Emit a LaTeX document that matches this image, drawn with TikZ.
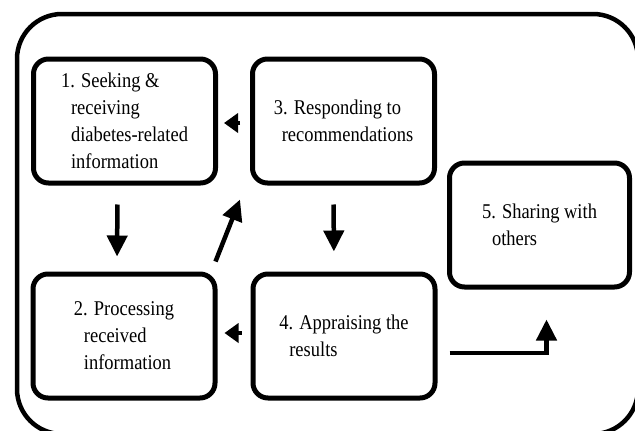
\documentclass[tikz,border=0pt]{standalone}
\usepackage{fontspec}
\setmainfont[FakeStretch=0.88]{Liberation Serif}
\usetikzlibrary{arrows.meta}

\tikzset{
  stage/.style={draw,line width=5pt,rounded corners=15pt,align=left,
    minimum width=182pt,minimum height=124pt,inner sep=0pt,
    font=\fontsize{21}{27}\selectfont},
  flow/.style={line width=4.5pt,-{Triangle[width=20pt,length=21pt]}},
  nudge/.style={line width=4.5pt,-{Triangle[width=19pt,length=14pt]}}
}

\begin{document}
\begin{tikzpicture}[x=1pt,y=-1pt]
\useasboundingbox (0,0) rectangle (635,431);
\clip (0,0) rectangle (635,431);
\draw[line width=4.5pt,rounded corners=45pt] (17,14) rectangle (638,434);

\node[stage] (seek) at (124.5,121) {1. Seeking \&\\\hspace*{10pt}receiving\\\hspace*{10pt}diabetes-related\\\hspace*{10pt}information};
\node[stage] (process) at (124,336) {2. Processing\\\hspace*{10pt}received\\\hspace*{10pt}information};
\node[stage] (respond) at (343.5,121) {3. Responding to\\\hspace*{8pt}recommendations};
\node[stage] (appraise) at (344,336) {4. Appraising the\\\hspace*{10pt}results};
\node[stage,minimum width=180pt] (share) at (539.5,225) {5. Sharing with\\\hspace*{10pt}others};

\draw[flow,shorten <=19pt,shorten >=15pt] ([xshift=-7pt]seek.south) -- ([xshift=-7pt]process.north);
\draw[flow,shorten <=19pt,shorten >=20pt] ([xshift=-10pt]respond.south) -- ([xshift=-10pt]appraise.north);
\draw[nudge,shorten <=10pt,shorten >=6pt] ([yshift=-2pt]respond.west) -- ([yshift=-2pt]seek.east);
\draw[nudge,shorten <=9pt,shorten >=7pt] ([yshift=3pt]appraise.west) -- ([yshift=3pt]process.east);
\draw[flow] ([shift={(-2,-10)}]process.north east) -- ([shift={(-10,14)}]respond.south west);
\draw[flow] ([shift={(12,17)}]appraise.east) -| ([shift={(7,30)}]share.south);
\end{tikzpicture}
\end{document}
